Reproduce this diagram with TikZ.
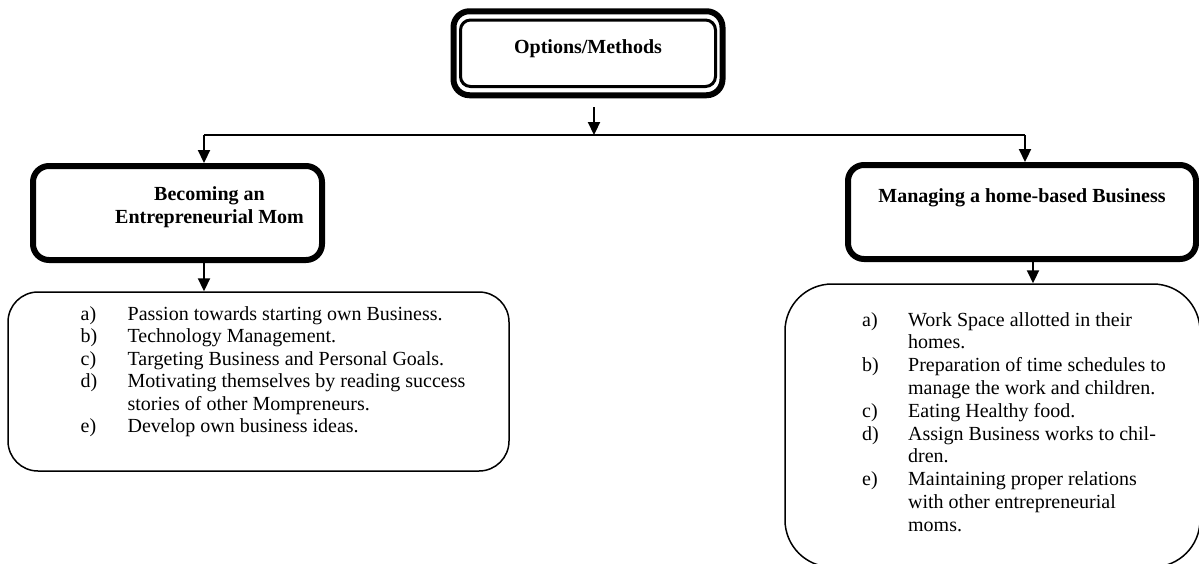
\documentclass[tikz,border=0pt]{standalone}
\usepackage{fontspec}
\setmainfont{Liberation Serif}
\usepackage{tikz}
\usetikzlibrary{arrows.meta, positioning}
\tikzstyle{headbox} = [rectangle, draw, line width=6pt, rounded corners=16pt, inner sep=0pt, font=\bfseries\fontsize{20}{23}\selectfont]
\tikzstyle{innerbox} = [rectangle, draw, line width=3pt, rounded corners=10pt, inner sep=0pt, font=\bfseries\fontsize{20}{23}\selectfont]
\tikzstyle{listbox} = [rectangle, draw, line width=1.5pt, inner sep=0pt, font=\fontsize{20}{22.5}\selectfont]
\tikzstyle{arrow} = [-{Triangle[length=13pt,width=12pt]}, line width=2.2pt]
\tikzstyle{branch} = [line width=2pt]

\begin{document}
\begin{tikzpicture}[x=1pt, y=1pt]
                \useasboundingbox (0,0) rectangle (1199,-563);
                % top box with double frame
                \node[innerbox, minimum width=255pt, minimum height=66.5pt, text height=14pt, text depth=14pt] (opts) at (588,-53.25) {Options/Methods};
                \node[headbox, minimum width=269pt, minimum height=84pt] (optsframe) at (opts.center) {};
                % branch points
                \coordinate (split) at (594,-135);
                \coordinate (lsplit) at (204,-135);
                \coordinate (rsplit) at (1025,-135);
                % second level
                \node[headbox, minimum width=289pt, minimum height=94pt, text height=15pt, text depth=41pt] (mom) at (177.5,-213) {\begin{tabular}[t]{@{\hspace{64pt}}c@{}}Becoming an\\Entrepreneurial Mom\end{tabular}};
                \node[headbox, minimum width=348pt, minimum height=94pt, text height=15pt, text depth=35pt] (home) at (1022,-212) {Managing a home-based Business};
                % lists
                \node[listbox, rounded corners=30pt, minimum width=501pt, minimum height=179pt, text height=15pt, text depth=138pt] (momlist) at (258.5,-381.5) {\begin{tabular}[t]{@{\hspace{29pt}}p{47pt}@{}l@{}}
                    a) & Passion towards starting own Business.\\
                    b) & Technology Management.\\
                    c) & Targeting Business and Personal Goals.\\
                    d) & Motivating themselves by reading success\\
                       & stories of other Mompreneurs.\\
                    e) & Develop own business ideas.
                \end{tabular}};
                \node[listbox, rounded corners=47pt, minimum width=415pt, minimum height=283pt, text height=15pt, text depth=214pt, font=\fontsize{20}{22.8}\selectfont] (homelist) at (992.5,-425.5) {\begin{tabular}[t]{@{\hspace{43pt}}p{46pt}@{}l@{}}
                    a) & Work Space allotted in their\\
                       & homes.\\
                    b) & Preparation of time schedules to\\
                       & manage the work and children.\\
                    c) & Eating Healthy food.\\
                    d) & Assign Business works to chil-\\
                       & dren.\\
                    e) & Maintaining proper relations\\
                       & with other entrepreneurial\\
                       & moms.
                \end{tabular}};
                % connectors
                \draw[arrow] ([yshift=-9pt]optsframe.south -| split) -- (split);
                \draw[branch] (lsplit) -- (rsplit);
                \draw[arrow] (lsplit) -- (lsplit |- mom.north);
                \draw[arrow] (rsplit) -- (rsplit |- home.north);
                \draw[arrow] (mom.south -| lsplit) -- (momlist.north -| lsplit);
                \draw[arrow] ([xshift=11pt]home.south) -- ([xshift=11pt]home.south |- homelist.north);
            \end{tikzpicture}
\end{document}
